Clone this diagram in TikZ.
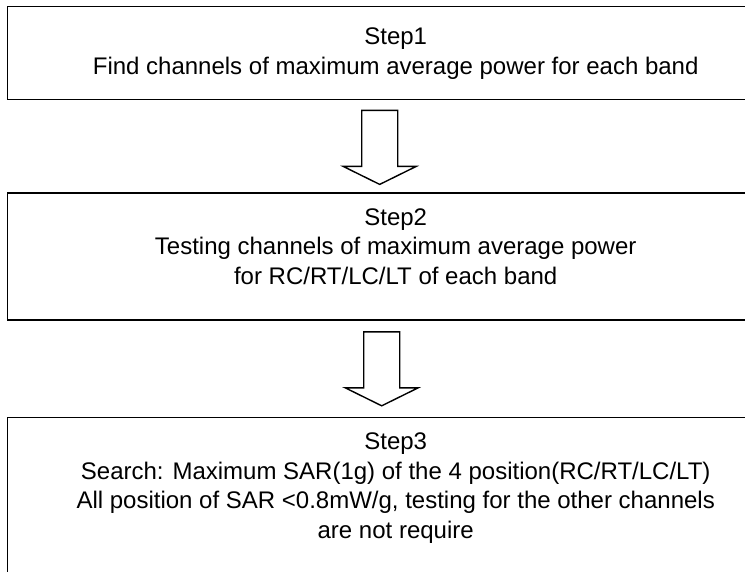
\documentclass[tikz,border=0pt]{standalone}
\usepackage{fontspec}
\setmainfont{Liberation Sans}
\usetikzlibrary{positioning}
\tikzset{
    box/.style={draw, line width=1.4pt, minimum width=776pt},
    steptext/.style={inner sep=0pt, align=center, font=\fontsize{24}{29.5}\selectfont},
    pics/downarrow/.style={code={
        \draw[line width=1.4pt] (-18,0) -- (18,0) -- (18,56) -- (36.5,56) -- (0,74)
            -- (-36.5,56) -- (-18,56) -- cycle;
    }},
}
\begin{document}
\begin{tikzpicture}[x=1pt,y=-1pt]
    \clip (0,0) rectangle (745,571);
    \node[box, minimum height=93pt, anchor=north west] (box1) at (7,6) {};
    \node[box, minimum height=127pt, below=92pt of box1] (box2) {};
    \node[box, minimum height=200pt, below=96pt of box2] (box3) {};
    \node[steptext, below=22pt of box1.north] (t1) {Step1\\ Find channels of maximum average power for each band};
    \node[steptext, below=16pt of box2.north] (t2) {Step2\\Testing channels of maximum average power\\ for RC/RT/LC/LT of each band};
    \node[steptext, below=16pt of box3.north] (t3) {Step3\\Search: Maximum SAR(1g) of the 4 position(RC/RT/LC/LT)\\All position of SAR <0.8mW/g, testing for the other channels\\are not require};
    % block arrows between the steps
    \coordinate (a1) at ([xshift=-16pt,yshift=-10pt]box1.south);
    \coordinate (a2) at ([xshift=-14pt,yshift=-11pt]box2.south);
    \pic at (a1) {downarrow};
    \pic at (a2) {downarrow};
\end{tikzpicture}
\end{document}
